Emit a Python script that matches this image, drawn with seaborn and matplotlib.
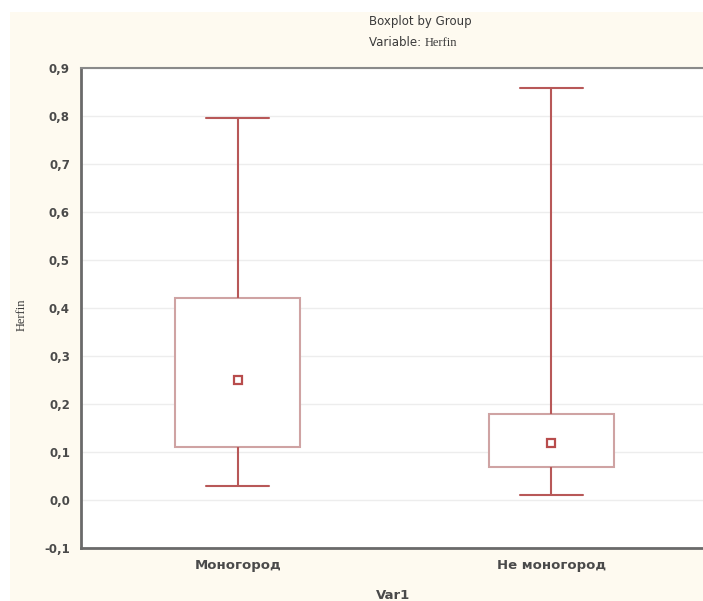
import matplotlib
matplotlib.use("Agg")
import matplotlib.pyplot as plt
import matplotlib.patches as mpatches
import seaborn as sns
import pandas as pd
import numpy as np

sns.set_style("white")
plt.rcParams['font.family'] = ['DejaVu Sans']

# Data: per group [min, Q1, median, Q3, max]
categories = ["Моногород", "Не моногород"]
mono_values = [0.03, 0.11, 0.25, 0.42, 0.795]
nemono_values = [0.01, 0.068, 0.118, 0.18, 0.858]
y_ticks = [-0.1, 0.0, 0.1, 0.2, 0.3, 0.4, 0.5, 0.6, 0.7, 0.8, 0.9]

df = pd.DataFrame({
    "Var1": [categories[0]] * len(mono_values) + [categories[1]] * len(nemono_values),
    "Herfin": mono_values + nemono_values,
})

W, H = 703, 601
fig = plt.figure(figsize=(W / 100, H / 100), dpi=100)
fig.patch.set_facecolor("white")
fig.patches.append(mpatches.Rectangle((10 / W, 0), 1, (H - 12) / H,
                                      transform=fig.transFigure,
                                      facecolor="#FEFAF0", edgecolor="none", zorder=-10))

ax = fig.add_axes([81 / W, 1 - 548 / H, (708 - 81) / W, (548 - 68) / H])
ax.set_facecolor("white")

box_edge = "#CFA3A3"
whisk = "#B85858"
sns.boxplot(data=df, x="Var1", y="Herfin", order=categories, whis=(0, 100),
            width=0.4, color="white", linewidth=1.3, ax=ax,
            boxprops=dict(facecolor="white", edgecolor=box_edge, linewidth=1.5),
            whiskerprops=dict(color=whisk, linewidth=1.5),
            capprops=dict(color=whisk, linewidth=1.5),
            medianprops=dict(visible=False),
            showfliers=False)
for line in ax.lines:
    line.set_zorder(3)
sns.pointplot(data=df, x="Var1", y="Herfin", order=categories, estimator="median",
              errorbar=None, linestyle="none", marker="s", markersize=6,
              markerfacecolor="white", markeredgecolor="#B84C4C", markeredgewidth=1.6,
              color="#B84C4C", ax=ax, zorder=5)

ax.set_xlim(-0.5, 1.5)
ax.set_ylim(-0.1, 0.9)
ax.set_yticks(y_ticks)
ax.set_yticklabels([f"{t:.1f}".replace(".", ",") for t in y_ticks])
ax.yaxis.grid(True, color="#EDEDED", linewidth=1)
ax.set_axisbelow(True)
ax.tick_params(axis="y", direction="in", length=3, width=1, color="#555555",
               labelsize=8.5, labelcolor="#4A4A4A", pad=8)
ax.tick_params(axis="x", direction="in", length=3, width=1, color="#555555",
               labelsize=9.5, labelcolor="#4A4A4A", pad=8)
for lab in ax.get_yticklabels() + ax.get_xticklabels():
    lab.set_fontweight("bold")
for s in ["left", "bottom"]:
    ax.spines[s].set_color("#6A6A6A")
    ax.spines[s].set_linewidth(2)
ax.spines["top"].set_color("#8A8A8A")
ax.spines["top"].set_linewidth(1.5)
ax.spines["right"].set_visible(False)
ax.set_xlabel("")
ax.set_ylabel("")

fig.text(420 / W, 1 - 22 / H, "Boxplot by Group", ha="center", va="center",
         fontsize=8.5, color="#3A3A3A")
fig.text(425 / W, 1 - 43 / H, "Variable: ", ha="right", va="center",
         fontsize=8.5, color="#3A3A3A")
fig.text(425 / W, 1 - 43 / H, "Herfin", ha="left", va="center",
         fontsize=9, color="#3A3A3A", family=["Liberation Serif", "DejaVu Serif"])
fig.text(22 / W, 1 - 315 / H, "Herfin", ha="center", va="center", rotation=90,
         fontsize=9, color="#3A3A3A", family=["Liberation Serif", "DejaVu Serif"])
fig.text(393 / W, 1 - 589 / H, "Var1", ha="center", va="top",
         fontsize=9.5, color="#4A4A4A", fontweight="bold")

fig.savefig("out.png", dpi=100, facecolor=fig.get_facecolor())
